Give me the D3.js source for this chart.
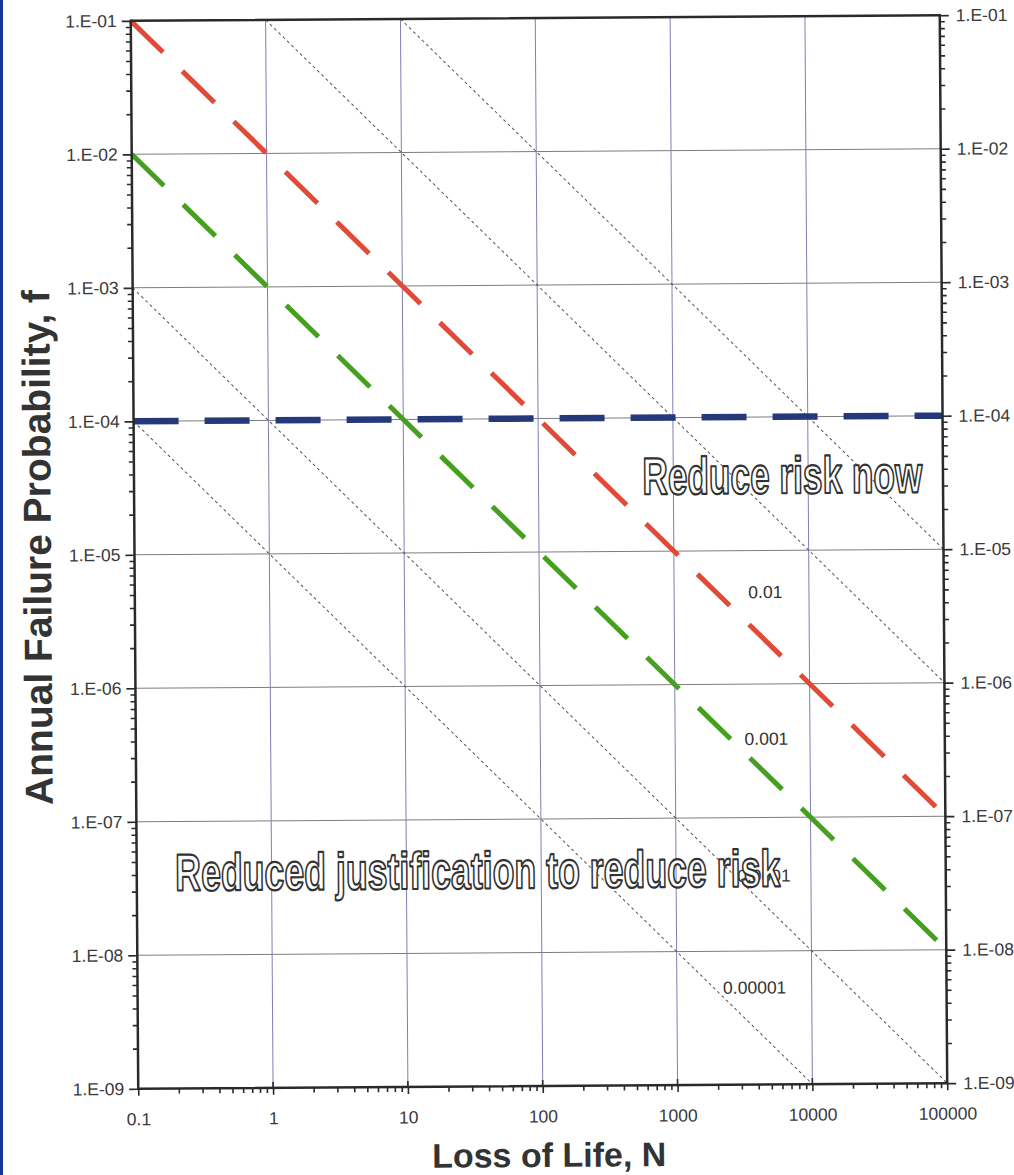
<!DOCTYPE html>
<html>
<head>
<meta charset="utf-8">
<script src="https://cdn.jsdelivr.net/npm/d3@7"></script>
<style>
  html, body { margin: 0; padding: 0; background: #fff; }
  svg { display: block; }
  text { font-family: "Liberation Sans", Arial, sans-serif; }
</style>
</head>
<body>
<div id="chart"></div>
<script>
// --- DATOS ---
const xTickValues = [0.1, 1, 10, 100, 1000, 10000, 100000];
const xTickLabels = ["0.1", "1", "10", "100", "1000", "10000", "100000"];
const yTickValues = [1e-1, 1e-2, 1e-3, 1e-4, 1e-5, 1e-6, 1e-7, 1e-8, 1e-9];
const yTickLabels = ["1.E-01", "1.E-02", "1.E-03", "1.E-04", "1.E-05", "1.E-06", "1.E-07", "1.E-08", "1.E-09"];

// lineas de criterio [N, f]
const redLine = [[0.1, 1e-1], [100000, 1e-7]];     // f*N = 0.01
const greenLine = [[0.1, 1e-2], [100000, 1e-8]];   // f*N = 0.001
const blueLine = [[0.1, 1e-4], [100000, 1e-4]];    // f = 1E-04

// lineas punteadas f*N = cte
const dottedLines = [
  [[10, 1e-1], [100000, 1e-5]],
  [[1, 1e-1], [100000, 1e-6]],
  [[0.1, 1e-3], [100000, 1e-9]],
  [[0.1, 1e-4], [10000, 1e-9]]
];

// etiquetas de las lineas [texto, N, f]
const lineLabels = [
  ["0.01", 3550, 4.4e-6],
  ["0.001", 3270, 3.5e-7],
  ["0.0001", 2840, 3.3e-8],
  ["0.00001", 2200, 4.8e-9]
];

// textos de zona [texto, N, f, ancho]
const zoneLabels = [
  ["Reduce risk now", 590, 2.67e-5, 280],
  ["Reduced justification to reduce risk", 0.193, 3.04e-8, 605]
];

// --- D3 ---
const W = 1014, H = 1175;
const margin = { left: 134.5, right: 1014 - 943.5, top: 18, bottom: 1175 - 1086 };

const svg = d3.select("#chart").append("svg")
  .attr("width", W).attr("height", H);

// borde azul del escaneo
svg.append("rect").attr("x", 0).attr("y", 0).attr("width", 3).attr("height", H).attr("fill", "#17379a");

const g = svg.append("g").attr("transform", "rotate(-0.4, 539, 552)");

const x = d3.scaleLog().domain([0.1, 100000]).range([margin.left, W - margin.right]);
const y = d3.scaleLog().domain([1e-9, 1e-1]).range([H - margin.bottom, margin.top]);

const x0 = x.range()[0], x1 = x.range()[1];
const y0 = y.range()[1], y1 = y.range()[0];

// Grid
g.append("g").selectAll("line")
  .data(yTickValues.slice(1, -1))
  .join("line")
  .attr("x1", x0).attr("x2", x1)
  .attr("y1", d => y(d)).attr("y2", d => y(d))
  .attr("stroke", "#7d7d7d").attr("stroke-width", 1);

g.append("g").selectAll("line")
  .data(xTickValues.slice(1, -1))
  .join("line")
  .attr("x1", d => x(d)).attr("x2", d => x(d))
  .attr("y1", y0).attr("y2", y1)
  .attr("stroke", "#8080b4").attr("stroke-width", 1);

const line = d3.line().x(d => x(d[0])).y(d => y(d[1]));

// Lineas punteadas
g.append("g").selectAll("path")
  .data(dottedLines)
  .join("path")
  .attr("d", line)
  .attr("fill", "none")
  .attr("stroke", "#555")
  .attr("stroke-width", 1)
  .attr("stroke-dasharray", "3,3");

// Etiquetas
g.append("g").selectAll("text")
  .data(lineLabels)
  .join("text")
  .attr("x", d => x(d[1])).attr("y", d => y(d[2]))
  .attr("font-size", 17.5)
  .attr("fill", "#333")
  .text(d => d[0]);

// Lineas de criterio
const crit = [
  { pts: redLine, color: "#e24a38", w: 5, dash: "45,27" },
  { pts: greenLine, color: "#45a020", w: 5, dash: "45,27" },
  { pts: blueLine, color: "#24387a", w: 6.5, dash: "45,26" }
];
g.append("g").selectAll("path")
  .data(crit)
  .join("path")
  .attr("d", d => line(d.pts))
  .attr("fill", "none")
  .attr("stroke", d => d.color)
  .attr("stroke-width", d => d.w)
  .attr("stroke-dasharray", d => d.dash);

// Textos de zona (contorno)
g.append("g").selectAll("text")
  .data(zoneLabels)
  .join("text")
  .attr("x", d => x(d[1])).attr("y", d => y(d[2]))
  .attr("textLength", d => d[3])
  .attr("lengthAdjust", "spacingAndGlyphs")
  .attr("font-weight", "bold")
  .attr("font-size", 52)
  .attr("fill", "#fff")
  .attr("stroke", "#333")
  .attr("stroke-width", 2.2)
  .attr("stroke-linejoin", "round")
  .text(d => d[0]);

// Marco
g.append("rect")
  .attr("x", x0).attr("y", y0)
  .attr("width", x1 - x0).attr("height", y1 - y0)
  .attr("fill", "none")
  .attr("stroke", "#2a2a2a")
  .attr("stroke-width", 2.5);

// Ejes
const minorX = x.ticks().filter(v => !xTickValues.some(t => Math.abs(t - v) / t < 1e-6));
const minorY = y.ticks().filter(v => !yTickValues.some(t => Math.abs(t - v) / t < 1e-6));

function styleAxis(sel) {
  sel.select(".domain").remove();
  sel.selectAll("line").attr("stroke", "#2a2a2a").attr("stroke-width", 1.6);
  sel.selectAll("text").attr("font-size", 17.5).attr("fill", "#3a3a3a")
    .style("font-family", '"Liberation Sans", Arial, sans-serif');
}

// izquierda
g.append("g").attr("transform", `translate(${x0},0)`)
  .call(d3.axisLeft(y).tickValues(yTickValues).tickFormat((d, i) => yTickLabels[i]).tickSize(9).tickPadding(5))
  .call(styleAxis);
g.append("g").attr("transform", `translate(${x0},0)`)
  .call(d3.axisLeft(y).tickValues(minorY).tickFormat("").tickSize(5))
  .call(styleAxis);

// derecha
g.append("g").attr("transform", `translate(${x1},0)`)
  .call(d3.axisRight(y).tickValues(yTickValues).tickFormat((d, i) => yTickLabels[i]).tickSize(9).tickPadding(7))
  .call(styleAxis);
g.append("g").attr("transform", `translate(${x1},0)`)
  .call(d3.axisRight(y).tickValues(minorY).tickFormat("").tickSize(5))
  .call(styleAxis);

// abajo
g.append("g").attr("transform", `translate(0,${y1})`)
  .call(d3.axisBottom(x).tickValues(xTickValues).tickFormat((d, i) => xTickLabels[i]).tickSize(7).tickPadding(17))
  .call(styleAxis);
g.append("g").attr("transform", `translate(0,${y1})`)
  .call(d3.axisBottom(x).tickValues(minorX).tickFormat("").tickSize(5))
  .call(styleAxis);
// marcas mayores cruzando hacia dentro
g.append("g").selectAll("line")
  .data(xTickValues)
  .join("line")
  .attr("x1", d => x(d)).attr("x2", d => x(d))
  .attr("y1", y1).attr("y2", y1 - 6)
  .attr("stroke", "#2a2a2a").attr("stroke-width", 1.6);

// Titulos
g.append("text")
  .attr("transform", "translate(51,544) rotate(-90)")
  .attr("text-anchor", "middle")
  .attr("font-size", 39)
  .attr("font-weight", "bold")
  .attr("fill", "#333")
  .text("Annual Failure Probability, f");

g.append("text")
  .attr("x", 545).attr("y", 1167)
  .attr("text-anchor", "middle")
  .attr("font-size", 34)
  .attr("font-weight", "bold")
  .attr("fill", "#333")
  .text("Loss of Life, N");
</script>
</body>
</html>
